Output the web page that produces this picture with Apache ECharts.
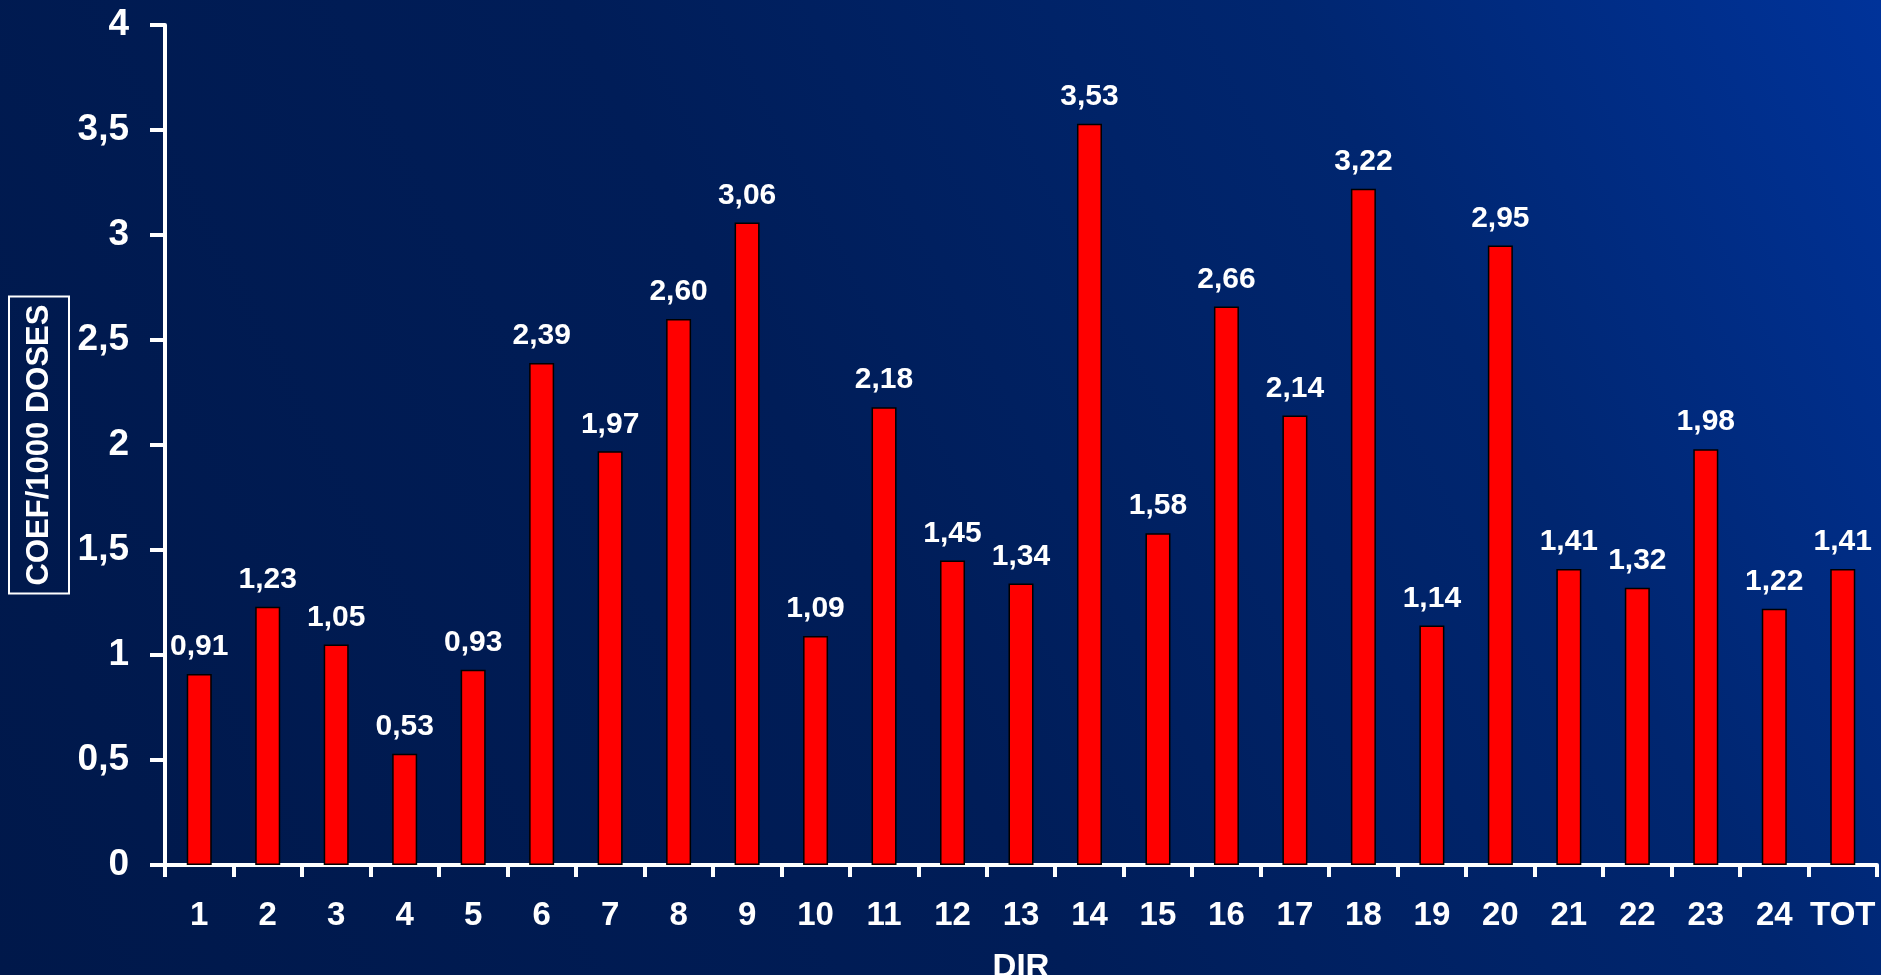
<!DOCTYPE html>
<html>
<head>
<meta charset="utf-8">
<script src="https://cdn.jsdelivr.net/npm/echarts@6/dist/echarts.min.js"></script>
<style>
html,body{margin:0;padding:0;width:1881px;height:975px;overflow:hidden;background:#001a4c;}
#c{width:1881px;height:975px;}
</style>
</head>
<body>
<div id="c"></div>
<script>
const categories = ['1','2','3','4','5','6','7','8','9','10','11','12','13','14','15','16','17','18','19','20','21','22','23','24','TOT'];
const values = [0.91,1.23,1.05,0.53,0.93,2.39,1.97,2.60,3.06,1.09,2.18,1.45,1.34,3.53,1.58,2.66,2.14,3.22,1.14,2.95,1.41,1.32,1.98,1.22,1.41];
const yTitle = 'COEF/1000 DOSES';
const xTitle = 'DIR';

const FONT = '"Liberation Sans", Arial, sans-serif';
const chart = echarts.init(document.getElementById('c'), null, {renderer:'canvas'});
chart.setOption({
  backgroundColor: new echarts.graphic.LinearGradient(0, 1, 1, 0, [
    {offset: 0, color: '#00184a'},
    {offset: 0.45, color: '#001d58'},
    {offset: 0.75, color: '#002670'},
    {offset: 1, color: '#00339a'}
  ]),
  animation: false,
  grid: {left: 165, right: 4, top: 25, bottom: 110, containLabel: false, outerBoundsMode: 'none'},
  xAxis: {
    type: 'category',
    data: categories,
    boundaryGap: true,
    name: xTitle,
    nameLocation: 'middle',
    nameGap: 86,
    nameMoveOverlap: false,
    nameTextStyle: {color: '#fff', fontSize: 33, fontWeight: 'bold', fontFamily: FONT},
    axisLine: {lineStyle: {color: '#fff', width: 4}},
    axisTick: {show: true, length: 12, lineStyle: {color: '#fff', width: 4}, alignWithLabel: false},
    axisLabel: {color: '#fff', fontSize: 33, fontWeight: 'bold', fontFamily: FONT, margin: 34, interval: 0}
  },
  yAxis: {
    type: 'value',
    min: 0, max: 4, interval: 0.5,
    name: yTitle,
    nameLocation: 'middle',
    nameRotate: 90,
    nameGap: 96,
    nameMoveOverlap: false,
    nameTextStyle: {
      color: '#fff', fontSize: 31, fontWeight: 'bold', fontFamily: FONT,
      borderColor: '#fff', borderWidth: 2, padding: [12, 8], lineHeight: 36
    },
    splitLine: {show: false},
    axisLine: {show: true, lineStyle: {color: '#fff', width: 4}},
    axisTick: {show: true, length: 15, lineStyle: {color: '#fff', width: 4}},
    axisLabel: {
      color: '#fff', fontSize: 37, fontWeight: 'bold', fontFamily: FONT, margin: 36,
      formatter: v => String(v).replace('.', ',')
    }
  },
  series: [{
    type: 'bar',
    data: values,
    barWidth: 25,
    itemStyle: {color: '#ff0000', borderColor: '#000', borderWidth: 1.5},
    label: {
      show: true, position: 'top', distance: 12,
      color: '#fff', fontSize: 30, fontWeight: 'bold', fontFamily: FONT,
      formatter: p => p.value.toFixed(2).replace('.', ',')
    }
  }]
});
</script>
</body>
</html>
